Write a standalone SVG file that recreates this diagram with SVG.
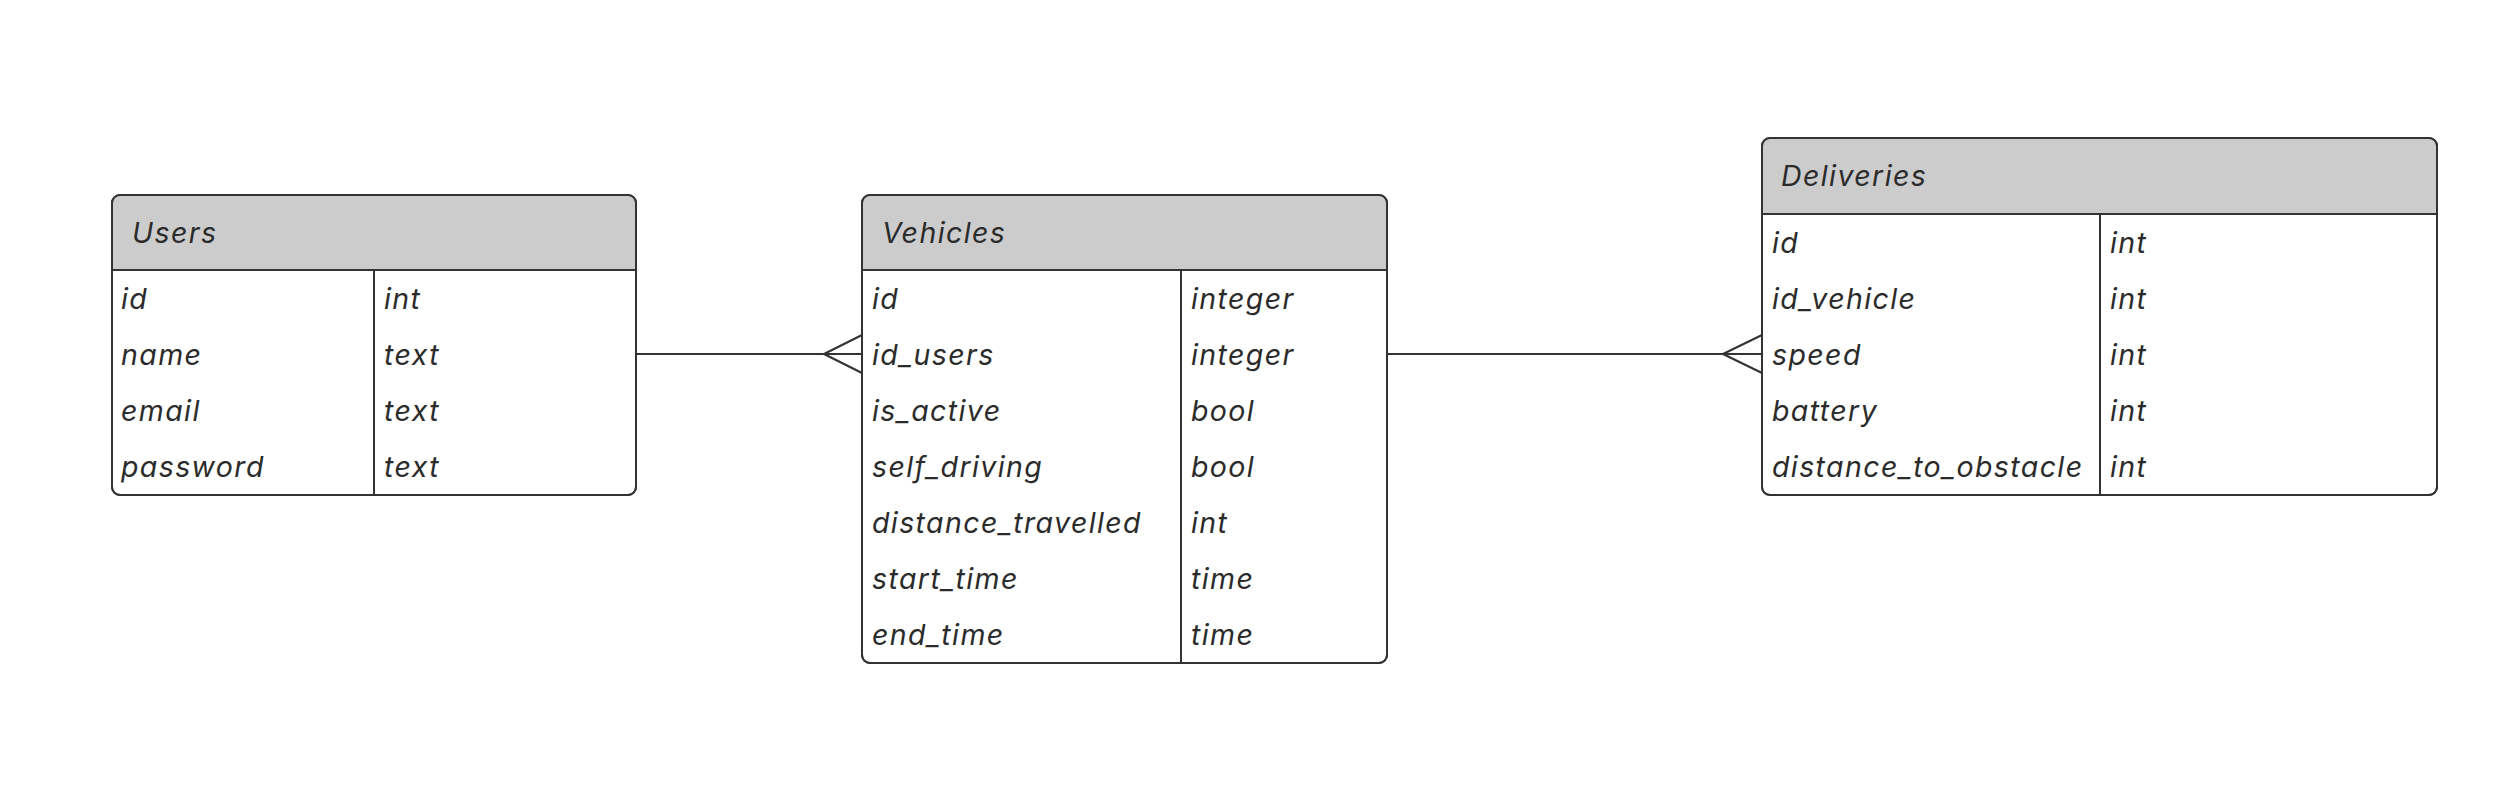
<svg xmlns="http://www.w3.org/2000/svg" width="2509" height="801" viewBox="0 0 2509 801">
<style>
.box{fill:#ffffff;stroke:#333333;stroke-width:2}
.hdr{fill:#cccccc}
.ln{stroke:#333333;stroke-width:2;fill:none}
text{font-family:Inter,"Noto Sans","Liberation Sans",sans-serif;font-style:italic;font-size:28.5px;letter-spacing:1.4px;fill:#2b2b2b}
</style>
<rect width="2509" height="801" fill="#ffffff"/>
<g id="connectors">
<path class="ln" d="M637 354 H862 M824 354 L862 335 M824 354 L862 373"/>
<path class="ln" d="M1387 354 H1762 M1723 354 L1762 335 M1723 354 L1762 373"/>
</g>
<g id="users">
<rect class="box" x="112" y="195" width="524" height="300" rx="8"/>
<path class="hdr" d="M120 196 H628 Q635 196 635 203 V270 H113 V203 Q113 196 120 196 Z"/>
<rect class="box" x="112" y="195" width="524" height="300" rx="8" style="fill:none"/>
<path class="ln" d="M112 270 H636 M374 270 V495"/>
<text x="132" y="243">Users</text>
<text x="121" y="309">id</text><text x="384" y="309">int</text>
<text x="121" y="365">name</text><text x="384" y="365">text</text>
<text x="121" y="421">email</text><text x="384" y="421">text</text>
<text x="121" y="477">password</text><text x="384" y="477">text</text>
</g>
<g id="vehicles">
<rect class="box" x="862" y="195" width="525" height="468" rx="8"/>
<path class="hdr" d="M870 196 H1379 Q1386 196 1386 203 V270 H863 V203 Q863 196 870 196 Z"/>
<rect class="box" x="862" y="195" width="525" height="468" rx="8" style="fill:none"/>
<path class="ln" d="M862 270 H1387 M1181 270 V663"/>
<text x="882" y="243">Vehicles</text>
<text x="872" y="309">id</text><text x="1191" y="309">integer</text>
<text x="872" y="365">id_users</text><text x="1191" y="365">integer</text>
<text x="872" y="421">is_active</text><text x="1191" y="421">bool</text>
<text x="872" y="477">self_driving</text><text x="1191" y="477">bool</text>
<text x="872" y="533">distance_travelled</text><text x="1191" y="533">int</text>
<text x="872" y="589">start_time</text><text x="1191" y="589">time</text>
<text x="872" y="645">end_time</text><text x="1191" y="645">time</text>
</g>
<g id="deliveries">
<rect class="box" x="1762" y="138" width="675" height="357" rx="8"/>
<path class="hdr" d="M1770 139 H2429 Q2436 139 2436 146 V214 H1763 V146 Q1763 139 1770 139 Z"/>
<rect class="box" x="1762" y="138" width="675" height="357" rx="8" style="fill:none"/>
<path class="ln" d="M1762 214 H2437 M2100 214 V495"/>
<text x="1781" y="186">Deliveries</text>
<text x="1772" y="253">id</text><text x="2110" y="253">int</text>
<text x="1772" y="309">id_vehicle</text><text x="2110" y="309">int</text>
<text x="1772" y="365">speed</text><text x="2110" y="365">int</text>
<text x="1772" y="421">battery</text><text x="2110" y="421">int</text>
<text x="1772" y="477">distance_to_obstacle</text><text x="2110" y="477">int</text>
</g>
</svg>
